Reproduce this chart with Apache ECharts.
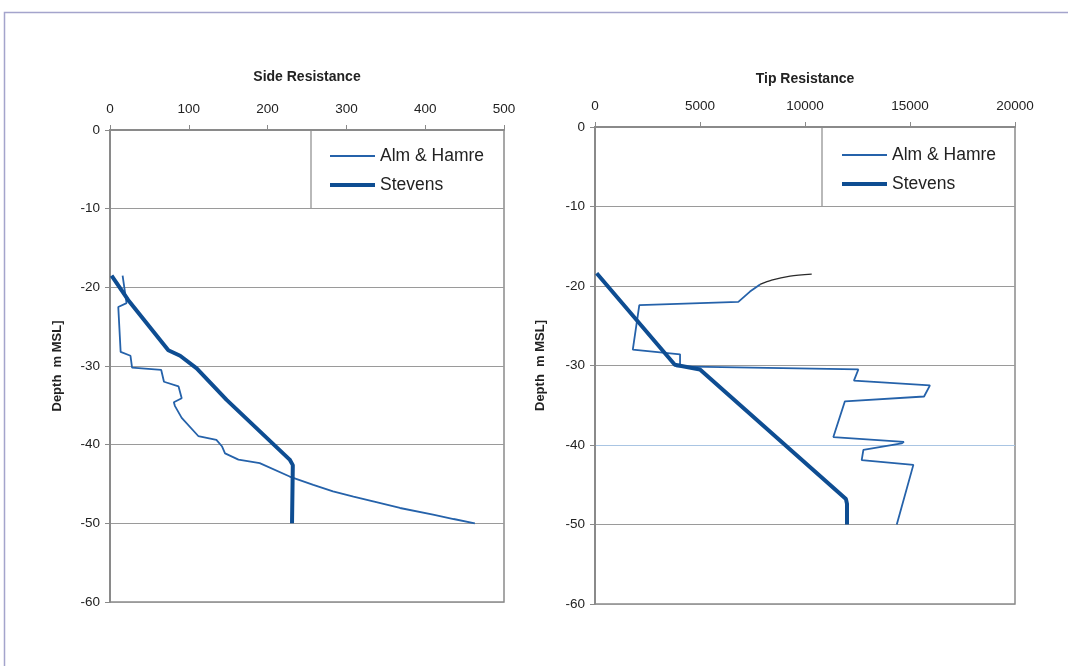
<!DOCTYPE html>
<html><head><meta charset="utf-8">
<script src="https://cdn.jsdelivr.net/npm/echarts@6/dist/echarts.min.js"></script>
<style>html,body{margin:0;padding:0;background:#fff}#c{width:1068px;height:666px}</style>
</head><body><div id="c"></div>
<script>
// Side Resistance [value, depth]
const sideAlm = [[16,-18.5],[21,-22.0],[10.5,-22.5],[13.5,-28.2],[26,-28.7],[28,-30.2],[65,-30.5],[68.5,-32],[87,-32.6],[91,-34.1],[81,-34.6],[82.5,-35.1],[91,-36.6],[112,-38.9],[135,-39.4],[142,-40.2],[146,-41.1],[163,-41.9],[190,-42.35],[228,-44.05],[258,-45.1],[283,-45.95],[309,-46.6],[334,-47.2],[368,-48.05],[410,-48.9],[436,-49.45],[463,-50]];
const sideStevens = [[2,-18.5],[23,-21.6],[74,-28],[89,-28.7],[110,-30.3],[148,-34.3],[228,-41.9],[232,-42.6],[231,-50]];
// Tip Resistance [value, depth]
const tipAlmTop = [[10320,-18.5],[9290,-18.75],[8410,-19.25],[7860,-19.8]];
const tipAlm = [[7860,-19.8],[7380,-20.7],[6825,-22.0],[2110,-22.4],[1800,-28.0],[4050,-28.6],[4050,-29.8],[3860,-30.1],[12540,-30.5],[12330,-31.9],[15950,-32.5],[15670,-33.9],[11900,-34.5],[11350,-39.0],[14710,-39.6],[14600,-39.8],[12780,-40.6],[12700,-41.9],[15160,-42.5],[14370,-50]];
const tipStevens = [[80,-18.4],[3800,-29.9],[5000,-30.5],[11950,-46.8],[12000,-47.4],[12000,-50]];
const legendNames = ['Alm & Hamre','Stevens'];
const titles = ['Side Resistance','Tip Resistance'];
const depthName = 'Depth  m MSL]';

const FONT = 'Liberation Sans, Arial, sans-serif';
const ALM = '#2562aa', STV = '#0e4d92';
const chart = echarts.init(document.getElementById('c'));
function xAx(idx, max, interval, gap){
  return {type:'value', gridIndex:idx, position:'top', min:0, max:max, interval:interval,
    name:titles[idx], nameLocation:'middle', nameGap:gap,
    nameTextStyle:{fontFamily:FONT, fontWeight:'bold', fontSize:14, color:'#222'},
    axisLine:{show:true, lineStyle:{color:'#8a8a8a', width:2}},
    axisTick:{show:true, inside:false, length:5, lineStyle:{color:'#8a8a8a'}},
    axisLabel:{fontFamily:FONT, fontSize:13.5, color:'#222', margin:14, formatter:function(v){return String(v);}},
    splitLine:{show:false}};
}
function yAx(idx, colors, gap){
  return {type:'value', gridIndex:idx, min:-60, max:0, interval:10,
    name:depthName, nameLocation:'middle', nameGap:gap,
    nameTextStyle:{fontFamily:FONT, fontWeight:'bold', fontSize:13, color:'#222'},
    axisLine:{show:true, onZero:false, lineStyle:{color:'#8a8a8a', width:2}},
    axisTick:{show:true, length:5, lineStyle:{color:'#8a8a8a'}},
    axisLabel:{fontFamily:FONT, fontSize:13.5, color:'#222', margin:10},
    splitLine:{show:true, lineStyle:{color:colors, width:1}}};
}
const g = '#9a9a9a';
const legendData = [
  {name:legendNames[0], icon:'path://M0,0 L45,0 L45,1.8 L0,1.8 Z', itemStyle:{color:ALM}},
  {name:legendNames[1], icon:'path://M0,0 L45,0 L45,4 L0,4 Z', itemStyle:{color:STV}}
];
function leg(left, top){
  return {data:legendData, orient:'vertical', left:left, top:top, padding:0, itemWidth:45, itemHeight:14, itemGap:11,
    textStyle:{fontFamily:FONT, fontSize:17.5, color:'#222', lineHeight:18}};
}
const option = {
  animation:false,
  backgroundColor:'#fff',
  grid:[
    {left:110, top:130, width:394, height:472, show:true, borderColor:'#8a8a8a', borderWidth:1.5, backgroundColor:'transparent'},
    {left:595, top:127, width:420, height:477, show:true, borderColor:'#8a8a8a', borderWidth:1.5, backgroundColor:'transparent'}
  ],
  xAxis:[xAx(0,500,100,46), xAx(1,20000,5000,41)],
  yAxis:[yAx(0,[g,g,g,g,g,g,g],46), yAx(1,[g,g,'#a9c5e3',g,g,g,g],48)],
  legend:[leg(330,147), leg(842,146)],
  graphic:[
    {type:'rect', shape:{x:4.5, y:12.5, width:1100, height:700}, style:{fill:'none', stroke:'#a4a4cc', lineWidth:1.5}, silent:true},
    {type:'line', shape:{x1:311, y1:130, x2:311, y2:209}, style:{stroke:'#8a8a8a', lineWidth:1.2}, silent:true},
    {type:'line', shape:{x1:822, y1:127, x2:822, y2:206}, style:{stroke:'#8a8a8a', lineWidth:1.2}, silent:true}
  ],
  series:[
    {name:'Alm & Hamre', type:'line', xAxisIndex:0, yAxisIndex:0, data:sideAlm, symbol:'none', lineStyle:{color:ALM, width:1.8}, itemStyle:{color:ALM}, z:3},
    {name:'Stevens', type:'line', xAxisIndex:0, yAxisIndex:0, data:sideStevens, symbol:'none', lineStyle:{color:STV, width:4}, itemStyle:{color:STV}, z:4},
    {name:'Alm & Hamre', type:'line', xAxisIndex:1, yAxisIndex:1, data:tipAlm, symbol:'none', lineStyle:{color:ALM, width:1.8}, itemStyle:{color:ALM}, z:3},
    {name:'segment', type:'line', xAxisIndex:1, yAxisIndex:1, data:tipAlmTop, symbol:'none', smooth:0.3, lineStyle:{color:'#2a2a2a', width:1.3}, itemStyle:{color:'#2a2a2a'}, z:3},
    {name:'Stevens', type:'line', xAxisIndex:1, yAxisIndex:1, data:tipStevens, symbol:'none', lineStyle:{color:STV, width:4}, itemStyle:{color:STV}, z:4}
  ]
};
chart.setOption(option);
</script></body></html>
